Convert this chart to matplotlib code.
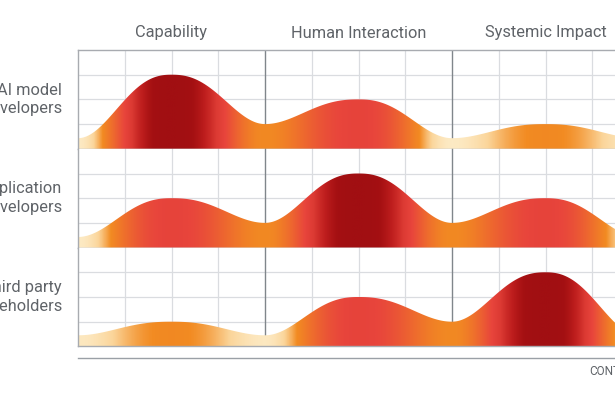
import numpy as np
import matplotlib
matplotlib.use("Agg")
import matplotlib.pyplot as plt
from matplotlib.colors import LinearSegmentedColormap
from matplotlib.patches import Polygon
from matplotlib.lines import Line2D

plt.rcParams['font.family'] = ['Roboto', 'DejaVu Sans']

# columns and rows of the grid
columns = ["Capability", "Human Interaction", "Systemic Impact"]
stakeholders = ["AI model\ndevelopers", "Application\ndevelopers", "Third party\nstakeholders"]

# peak height (grid units, 0-4) in each column, one list per stakeholder row
peaks_ai = [3.0, 2.0, 1.0]
peaks_app = [2.0, 3.0, 2.0]
peaks_third = [1.0, 2.0, 3.0]

# curve height at the column boundaries (left edge, two separators, right edge)
valleys_ai = [0.43, 1.0, 0.43, 0.43]
valleys_app = [0.43, 1.0, 1.0, 0.43]
valleys_third = [0.45, 0.45, 1.0, 0.43]

peaks = [peaks_ai, peaks_app, peaks_third]
valleys = [valleys_ai, valleys_app, valleys_third]

axis_label = "CONTEXT"

text_col = "#5f6368"
grid_col = "#dadce0"
sep_col = "#80868b"
border_col = "#a8abb0"

# colour follows curve height: pale -> orange -> red -> dark red
cmap = LinearSegmentedColormap.from_list("heat", [
    (0.00, "#fdecc8"),
    (0.10, "#fbd59a"),
    (0.22, "#f28b22"),
    (0.40, "#ee6a2e"),
    (0.60, "#e8453c"),
    (0.72, "#dc3a33"),
    (0.86, "#bd1d1d"),
    (0.95, "#a41012"),
    (1.00, "#a10f12"),
])
vmin, vmax = 0.4, 3.0

W, H = 615, 410
fig = plt.figure(figsize=(W / 100, H / 100), dpi=100)
fig.patch.set_facecolor("white")

left_px = 78
col_px = 187
row_tops = [51, 149.8, 248.6]
row_h = 98.8


def ease(d):
    # smooth 1 -> 0 from the column centre (d=0) to its edge (d=0.5)
    t = np.clip(d / 0.5, 0, 1)
    return (1 + np.cos(np.pi * t ** 1.2)) / 2


x = np.linspace(0, 3, 1500)

for r in range(3):
    top = row_tops[r]
    ax = fig.add_axes([left_px / W, 1 - (top + row_h) / H, 3 * col_px / W, row_h / H])
    ax.set_xlim(0, 3)
    ax.set_ylim(0, 4)

    # curve
    f = np.zeros_like(x)
    for j in range(3):
        c = j + 0.5
        lo = (x >= j) & (x < c)
        hi = (x >= c) & (x <= j + 1)
        f[lo] = valleys[r][j] + (peaks[r][j] - valleys[r][j]) * ease(c - x[lo])
        f[hi] = valleys[r][j + 1] + (peaks[r][j] - valleys[r][j + 1]) * ease(x[hi] - c)

    # grid
    for gx in np.arange(0.25, 3, 0.25):
        if abs(gx - round(gx)) < 1e-6:
            ax.axvline(gx, color=sep_col, lw=1.0, zorder=1)
        else:
            ax.axvline(gx, color=grid_col, lw=0.9, zorder=0)
    for gy in [1, 2, 3]:
        ax.axhline(gy, color=grid_col, lw=0.9, zorder=0)

    # gradient fill clipped to the curve
    colours = cmap(np.clip((f - vmin) / (vmax - vmin), 0, 1))[None, :, :]
    im = ax.imshow(colours, extent=[0, 3, 0, 4], aspect="auto", origin="lower",
                   interpolation="bilinear", zorder=2)
    verts = [(0, 0)] + list(zip(x, f)) + [(3, 0)]
    patch = Polygon(verts, closed=True, facecolor="none", edgecolor="none")
    ax.add_patch(patch)
    im.set_clip_path(patch)

    ax.set_xticks([])
    ax.set_yticks([])
    ax.spines["right"].set_visible(False)
    ax.spines["top"].set_visible(r == 0)
    for side in ["top", "left", "bottom"]:
        ax.spines[side].set_color(border_col)
        ax.spines[side].set_linewidth(1.0)
        ax.spines[side].set_zorder(3)

    # row label
    fig.text(62 / W, 1 - (top + row_h / 2 - 1) / H, stakeholders[r], ha="right", va="center",
             fontsize=11.8, color=text_col, linespacing=1.3)

# column headers
for j, name in enumerate(columns):
    fig.text((left_px + col_px * (j + 0.5)) / W, 1 - 33 / H, name, ha="center", va="center",
             fontsize=11.8, color=text_col)

# context axis line
fig.add_artist(Line2D([left_px / W, 1.0], [1 - 359 / H, 1 - 359 / H], color="#9aa0a6", lw=1.0))
fig.text(589 / W, 1 - 372 / H, axis_label, ha="left", va="center", fontsize=8.5, color=text_col)

fig.savefig("out.png", dpi=100)
